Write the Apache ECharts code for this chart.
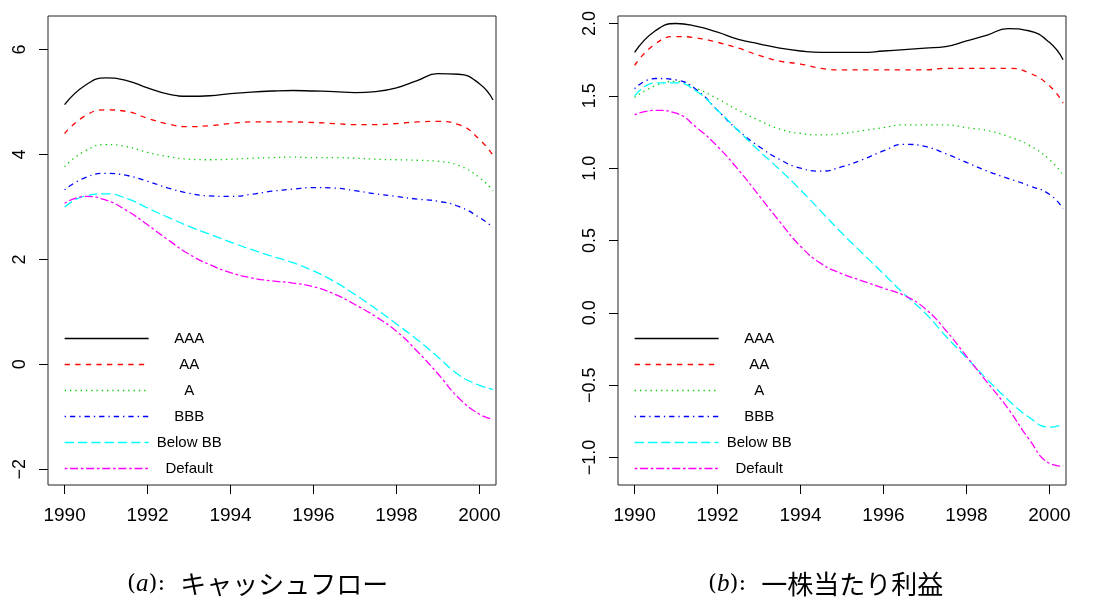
<!DOCTYPE html>
<html>
<head>
<meta charset="utf-8">
<script src="https://cdn.jsdelivr.net/npm/echarts@6/dist/echarts.min.js"></script>
<style>
  html, body { margin: 0; padding: 0; background: #fff; }
  #box1 { width: 1096px; height: 597px; }
</style>
</head>
<body>
<div id="box1"></div>
<script>
// sample points along the smoothed curves (years)
var years = [1990, 1990.5, 1991, 1991.5, 1992, 1992.5, 1993, 1993.5, 1994, 1994.5, 1995,
             1995.5, 1996, 1996.5, 1997, 1997.5, 1998, 1998.5, 1999, 1999.5, 2000, 2000.33];

var names = ['AAA', 'AA', 'A', 'BBB', 'Below BB', 'Default'];

// (a) キャッシュフロー
var cfAAA     = [4.95, 5.32, 5.46, 5.41, 5.27, 5.15, 5.11, 5.12, 5.16, 5.19, 5.21, 5.22, 5.21, 5.20, 5.18, 5.20, 5.27, 5.41, 5.54, 5.53, 5.35, 5.04];
var cfAA      = [4.40, 4.74, 4.85, 4.82, 4.69, 4.58, 4.53, 4.55, 4.59, 4.62, 4.62, 4.62, 4.61, 4.59, 4.57, 4.57, 4.59, 4.62, 4.63, 4.57, 4.29, 3.98];
var cfA       = [3.77, 4.07, 4.19, 4.15, 4.04, 3.96, 3.91, 3.90, 3.91, 3.93, 3.94, 3.95, 3.94, 3.94, 3.93, 3.91, 3.90, 3.89, 3.87, 3.79, 3.56, 3.31];
var cfBBB     = [3.33, 3.56, 3.64, 3.60, 3.49, 3.36, 3.26, 3.21, 3.20, 3.24, 3.30, 3.34, 3.37, 3.36, 3.31, 3.25, 3.20, 3.15, 3.11, 3.01, 2.80, 2.61];
var cfBelowBB = [3.00, 3.21, 3.25, 3.16, 2.98, 2.80, 2.63, 2.48, 2.33, 2.19, 2.06, 1.94, 1.78, 1.58, 1.33, 1.06, 0.77, 0.47, 0.14, -0.20, -0.40, -0.48];
var cfDefault = [3.07, 3.20, 3.13, 2.93, 2.66, 2.37, 2.10, 1.90, 1.75, 1.65, 1.59, 1.55, 1.48, 1.34, 1.14, 0.91, 0.63, 0.25, -0.18, -0.64, -0.95, -1.05];

// (b) 一株当たり利益
var epsAAA     = [1.80, 1.95, 2.00, 1.98, 1.94, 1.89, 1.86, 1.83, 1.81, 1.80, 1.80, 1.80, 1.81, 1.82, 1.83, 1.84, 1.88, 1.92, 1.965, 1.95, 1.87, 1.75];
var epsAA      = [1.71, 1.86, 1.91, 1.90, 1.87, 1.83, 1.78, 1.74, 1.72, 1.69, 1.68, 1.68, 1.68, 1.68, 1.68, 1.69, 1.69, 1.69, 1.69, 1.66, 1.57, 1.45];
var epsA       = [1.49, 1.57, 1.60, 1.55, 1.48, 1.40, 1.33, 1.27, 1.24, 1.23, 1.24, 1.26, 1.28, 1.30, 1.30, 1.30, 1.28, 1.26, 1.22, 1.16, 1.06, 0.95];
var epsBBB     = [1.55, 1.62, 1.61, 1.54, 1.40, 1.26, 1.15, 1.06, 1.00, 0.98, 1.01, 1.06, 1.12, 1.165, 1.15, 1.10, 1.04, 0.98, 0.93, 0.88, 0.82, 0.72];
var epsBelowBB = [1.50, 1.59, 1.59, 1.53, 1.40, 1.26, 1.12, 0.99, 0.85, 0.70, 0.55, 0.41, 0.27, 0.13, 0.00, -0.16, -0.31, -0.46, -0.60, -0.72, -0.79, -0.77];
var epsDefault = [1.37, 1.40, 1.38, 1.28, 1.15, 0.99, 0.81, 0.63, 0.46, 0.34, 0.27, 0.22, 0.17, 0.12, 0.03, -0.12, -0.30, -0.48, -0.66, -0.87, -1.04, -1.06];

// tick labels
var xTicks = [1990, 1992, 1994, 1996, 1998, 2000];
var cfTicks = [-2, 0, 2, 4, 6];
var epsTicks = [-1, -0.5, 0, 0.5, 1, 1.5, 2];

var colors = ['#000000', '#ff0000', '#00cd00', '#0000ff', '#00ffff', '#ff00ff'];
// R line types 1..6, scaled
var dashes = ['solid', [5.3, 5.3], [1.3, 4], [1.3, 4, 5.3, 4], [9.3, 4], [2.7, 2.7, 8, 2.7]];

var font = 'Liberation Sans, Arial, sans-serif';

function pairs(arr) {
    return years.map(function (y, i) { return [y, arr[i]]; });
}
function minus(s) { return String(s).replace('-', '\u2212'); }

var dom = document.getElementById("box1");
var myChart = echarts.init(dom);

var panels = [
    [cfAAA, cfAA, cfA, cfBBB, cfBelowBB, cfDefault],
    [epsAAA, epsAA, epsA, epsBBB, epsBelowBB, epsDefault]
];

var series = [];
panels.forEach(function (set, p) {
    set.forEach(function (arr, k) {
        series.push({
            name: names[k],
            type: 'line',
            xAxisIndex: p,
            yAxisIndex: p,
            data: pairs(arr),
            symbol: 'none',
            smooth: 0.5,
            silent: true,
            itemStyle: { color: colors[k] },
            lineStyle: { color: colors[k], width: 1.3, type: dashes[k] }
        });
    });
});

function xAxisDef(idx) {
    return {
        type: 'value', gridIndex: idx, position: 'bottom', min: 1989.6, max: 2000.4,
        axisLine: { show: false, onZero: false },
        splitLine: { show: false },
        axisTick: { show: true, inside: false, length: 9, customValues: xTicks, lineStyle: { color: '#000' } },
        axisLabel: {
            customValues: xTicks, margin: 21, color: '#000', fontFamily: font, fontSize: 19,
            formatter: function (v) { return String(v); }
        }
    };
}

function yAxisDef(idx, min, max, ticks, fmt) {
    return {
        type: 'value', gridIndex: idx, position: 'left', min: min, max: max,
        axisLine: { show: false, onZero: false },
        splitLine: { show: false },
        axisTick: { show: true, inside: false, length: 9, customValues: ticks, lineStyle: { color: '#000' } },
        axisLabel: { customValues: ticks, rotate: 90, margin: 19, color: '#000', fontFamily: font, fontSize: 18, formatter: fmt }
    };
}

function legendDef(left) {
    return {
        orient: 'vertical', left: left, top: 331, padding: 0,
        itemWidth: 84, itemHeight: 14, itemGap: 11,
        selectedMode: false,
        data: names,
        lineStyle: { width: 1.3 },
        itemStyle: { color: 'rgba(0,0,0,0)', borderWidth: 0 },
        formatter: function (n) { return '{c|' + n + '}'; },
        textStyle: {
            color: '#000', fontFamily: font, fontSize: 15,
            rich: { c: { width: 71, align: 'center', fontFamily: font, fontSize: 15, color: '#000' } }
        }
    };
}

function captionDef(left, letter, jp) {
    return {
        left: left, top: 571, padding: 0,
        text: '{p|(}{i|' + letter + '}{p|):}{g| }{j|' + jp + '}',
        textStyle: {
            fontWeight: 'normal',
            rich: {
                p: { fontFamily: 'DejaVu Serif, Liberation Serif, serif', fontWeight: 'normal', fontSize: 23, color: '#000' },
                i: { fontFamily: 'Liberation Serif, DejaVu Serif, serif', fontWeight: 'normal', fontStyle: 'italic', fontSize: 25, color: '#000' },
                g: { width: 15 },
                j: { fontFamily: 'Noto Sans CJK JP', fontWeight: 'normal', fontSize: 26, color: '#000' }
            }
        }
    };
}

option = {
    animation: false,
    backgroundColor: '#fff',
    title: [
        captionDef(127, 'a', 'キャッシュフロー'),
        captionDef(708, 'b', '一株当たり利益')
    ],
    legend: [legendDef(64), legendDef(634)],
    grid: [
        { left: 48, top: 16, width: 448, height: 469, show: true, borderColor: '#222', borderWidth: 1 },
        { left: 618, top: 16, width: 448, height: 469, show: true, borderColor: '#222', borderWidth: 1 }
    ],
    xAxis: [xAxisDef(0), xAxisDef(1)],
    yAxis: [
        yAxisDef(0, -2.3, 6.64, cfTicks, function (v) { return minus(v); }),
        yAxisDef(1, -1.19, 2.052, epsTicks, function (v) { return minus(v.toFixed(1)); })
    ],
    series: series
};

if (option && typeof option === "object") {
    myChart.setOption(option, true);
}
</script>
</body>
</html>
